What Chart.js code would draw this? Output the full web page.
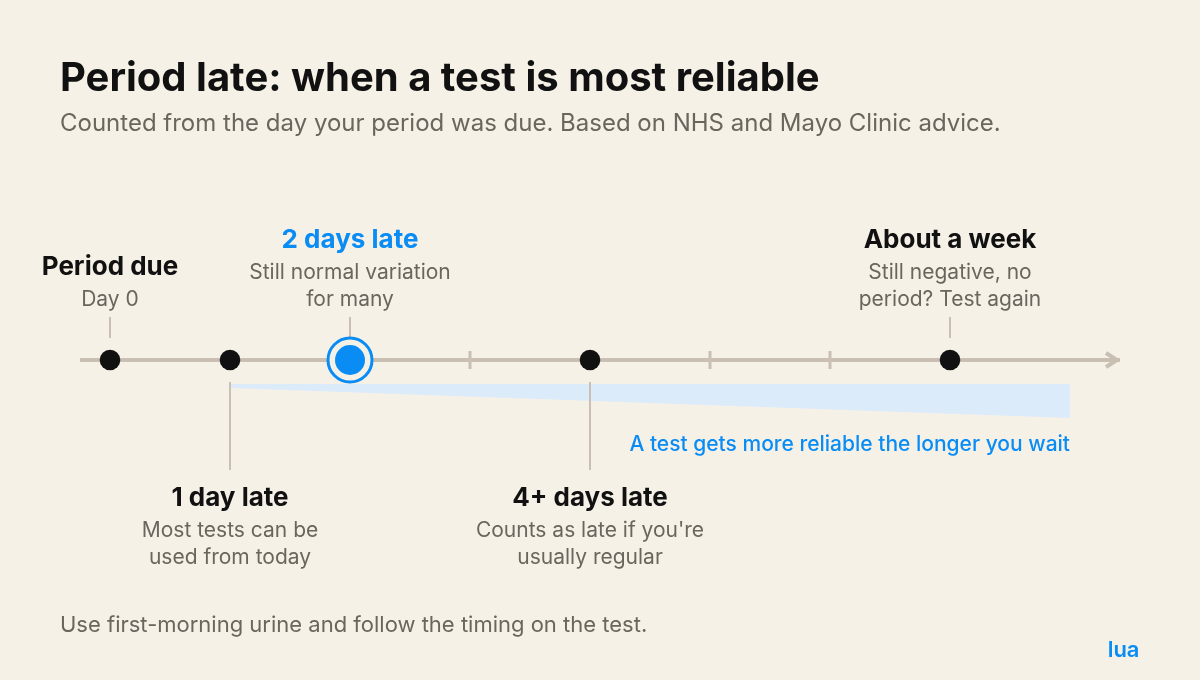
<!DOCTYPE html>
<html>
<head>
<meta charset="utf-8">
<title>Period late: when a test is most reliable</title>
<script src="https://cdn.jsdelivr.net/npm/chart.js@4"></script>
<style>
  html, body { margin: 0; padding: 0; background: #f6f1e7; }
  canvas { display: block; }
</style>
</head>
<body>
<canvas id="myChart" width="1200" height="680"></canvas>
<script>
const titleText = 'Period late: when a test is most reliable';
const subtitleText = 'Counted from the day your period was due. Based on NHS and Mayo Clinic advice.';
const footerText = 'Use first-morning urine and follow the timing on the test.';
const brandText = 'lua';
const wedgeText = 'A test gets more reliable the longer you wait';

// days after the period was due
const milestoneDays = [0, 1, 2, 4, 7];
const milestoneNames = ['Period due', '1 day late', '2 days late', '4+ days late', 'About a week'];
const milestoneNotes = [
  ['Day 0'],
  ['Most tests can be', 'used from today'],
  ['Still normal variation', 'for many'],
  ["Counts as late if you're", 'usually regular'],
  ['Still negative, no', 'period? Test again']
];
const tickDays = [3, 5, 6];
const highlightDay = 2;

const axisRange = [-0.25, 8.4167];
const wedgeDays = [1, 8];
const wedgeTop = [-24, -24];
const wedgeBottom = [-28, -58];

// stems, in the same units as the y scale (0 = the axis)
const stemStart = [22, -22, 22, -22, 22];
const stemEnd = [43, -110, 43, -110, 43];

const ink = '#111111';
const grey = '#6b665d';
const blue = '#0a8cf5';
const rail = '#c9bfb2';
const paper = '#f6f1e7';
const font = 'Inter, sans-serif';

const pairs = (xs, ys) => xs.map((x, i) => ({ x: x, y: ys[i] }));
const zeros = xs => xs.map(x => ({ x: x, y: 0 }));
const stems = [];
milestoneDays.forEach((d, i) => {
  stems.push({ x: d, y: stemStart[i] }, { x: d, y: stemEnd[i] }, { x: d, y: null });
});

// baselines of the label blocks, top of canvas = 0
const nameY = [275, 506, 248, 506, 248];
const noteY = [[306], [537, 564], [279, 306], [537, 564], [279, 306]];

function put(ctx, text, x, y, size, weight, color, align) {
  ctx.font = weight + ' ' + size + 'px ' + font;
  ctx.fillStyle = color;
  ctx.textAlign = align || 'left';
  ctx.textBaseline = 'alphabetic';
  ctx.fillText(text, x, y);
}

const textAndArrow = {
  id: 'textAndArrow',
  afterDraw(chart) {
    const ctx = chart.ctx;
    const xs = chart.scales.x;
    const ys = chart.scales.y;
    ctx.save();

    // arrow head at the end of the rail
    const tipX = xs.getPixelForValue(axisRange[1]);
    const tipY = ys.getPixelForValue(0);
    ctx.strokeStyle = rail;
    ctx.lineWidth = 4;
    ctx.beginPath();
    ctx.moveTo(tipX - 14, tipY - 7);
    ctx.lineTo(tipX - 3, tipY);
    ctx.lineTo(tipX - 14, tipY + 7);
    ctx.stroke();

    put(ctx, titleText, 60, 91, 40, 700, ink);
    put(ctx, subtitleText, 60, 131, 24, 400, grey);
    put(ctx, footerText, 60, 632, 22, 400, grey);
    put(ctx, brandText, 1139.5, 657, 22, 600, blue, 'right');
    put(ctx, wedgeText, xs.getPixelForValue(wedgeDays[1]), 451, 21, 500, blue, 'right');

    milestoneDays.forEach((d, i) => {
      const x = xs.getPixelForValue(d);
      put(ctx, milestoneNames[i], x, nameY[i], 26, 700, d === highlightDay ? blue : ink, 'center');
      milestoneNotes[i].forEach((line, j) => {
        put(ctx, line, x, noteY[i][j], 21, 400, grey, 'center');
      });
    });
    ctx.restore();
  }
};

new Chart(document.getElementById('myChart'), {
  type: 'scatter',
  data: {
    datasets: [
      {
        label: 'Highlight',
        data: zeros([highlightDay]),
        pointRadius: 15,
        pointBackgroundColor: blue,
        pointBorderWidth: 0,
        order: 1
      },
      {
        label: 'Highlight ring',
        data: zeros([highlightDay]),
        pointRadius: 22,
        pointBackgroundColor: paper,
        pointBorderColor: blue,
        pointBorderWidth: 3,
        order: 2
      },
      {
        label: 'Milestones',
        data: zeros(milestoneDays.filter(d => d !== highlightDay)),
        pointRadius: 10.3,
        pointBackgroundColor: ink,
        pointBorderWidth: 0,
        order: 3
      },
      {
        label: 'Ticks',
        data: zeros(tickDays),
        pointStyle: 'line',
        rotation: 90,
        pointRadius: 9,
        pointBorderColor: rail,
        pointBorderWidth: 3,
        order: 4
      },
      {
        label: 'Rail',
        data: zeros(axisRange),
        showLine: true,
        borderColor: rail,
        borderWidth: 4,
        pointRadius: 0,
        order: 5
      },
      {
        label: 'Stems',
        data: stems,
        showLine: true,
        spanGaps: false,
        borderColor: rail,
        borderWidth: 2,
        pointRadius: 0,
        order: 6
      },
      {
        label: 'Reliability top',
        data: pairs(wedgeDays, wedgeTop),
        showLine: true,
        borderWidth: 0,
        pointRadius: 0,
        fill: '+1',
        backgroundColor: '#dcebfa',
        order: 7
      },
      {
        label: 'Reliability bottom',
        data: pairs(wedgeDays, wedgeBottom),
        showLine: true,
        borderWidth: 0,
        pointRadius: 0,
        order: 7
      }
    ]
  },
  options: {
    responsive: false,
    animation: false,
    layout: { autoPadding: false, padding: { left: 80, right: 80, top: 0, bottom: 0 } },
    plugins: { legend: { display: false }, tooltip: { enabled: false } },
    events: [],
    scales: {
      x: { type: 'linear', display: false, min: axisRange[0], max: axisRange[1] },
      y: { type: 'linear', display: false, min: -320, max: 360 }
    }
  },
  plugins: [textAndArrow]
});
</script>
</body>
</html>
